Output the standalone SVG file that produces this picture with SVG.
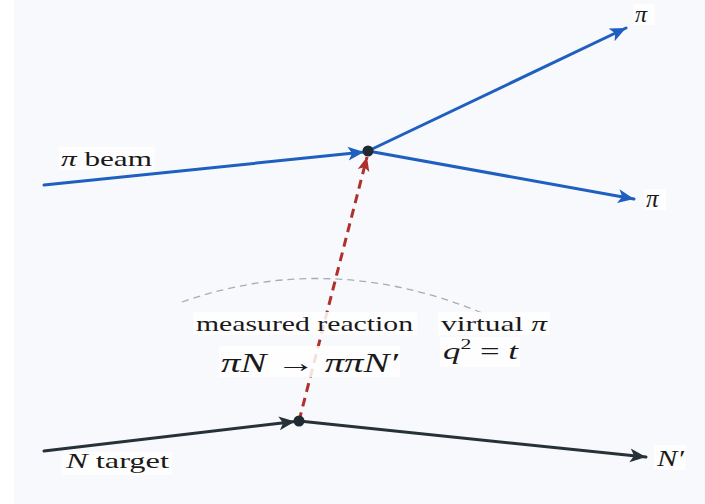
<svg xmlns="http://www.w3.org/2000/svg" width="705" height="504" viewBox="0 0 705 504">
<style>
.t{font-family:"Liberation Serif","Times New Roman",serif;fill:#1a1a1a}
.lb{fill:#ffffff;opacity:0.85}
.blue{stroke:#1f5fbf;stroke-width:3;fill:none;stroke-linecap:round}
.dark{stroke:#263238;stroke-width:3;fill:none;stroke-linecap:round}
.red{stroke:#b0302c;stroke-width:3;fill:none;stroke-dasharray:9 6}
.dot{fill:#1f2a33}
</style>
<defs>
<marker id="ab" markerUnits="userSpaceOnUse" markerWidth="20" markerHeight="16" refX="16" refY="7" orient="auto" viewBox="0 0 20 14">
<path d="M0,0 L16,7 L0,14 L4,7 z" fill="#1f5fbf"/>
</marker>
<marker id="ad" markerUnits="userSpaceOnUse" markerWidth="20" markerHeight="16" refX="16" refY="7" orient="auto" viewBox="0 0 20 14">
<path d="M0,0 L16,7 L0,14 L4,7 z" fill="#263238"/>
</marker>
<marker id="ar" markerUnits="userSpaceOnUse" markerWidth="18" markerHeight="14" refX="14" refY="6" orient="auto" viewBox="0 0 18 12">
<path d="M0,0 L14,6 L0,12 L3.5,6 z" fill="#b0302c"/>
</marker>
</defs>
<rect x="14" y="0" width="691" height="504" fill="#f7f9fc"/>
<path d="M182,302 Q330,250 482,313" fill="none" stroke="#a8adb3" stroke-width="1.3" stroke-dasharray="7 5"/>
<g id="connectors">
<line class="blue" x1="44" y1="185" x2="364" y2="152" marker-end="url(#ab)"/>
<line class="blue" x1="368" y1="151" x2="626" y2="28" marker-end="url(#ab)"/>
<line class="blue" x1="368" y1="151" x2="634" y2="199" marker-end="url(#ab)"/>
<line class="dark" x1="44" y1="451" x2="295" y2="421.5" marker-end="url(#ad)"/>
<line class="dark" x1="299" y1="421" x2="646" y2="457" marker-end="url(#ad)"/>
<line class="red" x1="299" y1="421" x2="367" y2="157" marker-end="url(#ar)"/>
</g>
<g id="vertex-top"><circle class="dot" cx="368" cy="151" r="5.5"/></g>
<g id="vertex-bottom"><circle class="dot" cx="299" cy="421" r="5.5"/></g>
<g id="label-beam">
<rect class="lb" x="59" y="147" width="96" height="23"/>
<text class="t" x="61" y="166" font-size="22" textLength="91" lengthAdjust="spacingAndGlyphs"><tspan font-style="italic">π</tspan>  beam</text>
</g>
<g id="label-pi-top">
<rect class="lb" x="633" y="4" width="22" height="21"/>
<text class="t" x="635" y="22" font-size="24" font-style="italic">π</text>
</g>
<g id="label-pi-bottom">
<rect class="lb" x="644" y="189" width="22" height="21"/>
<text class="t" x="646" y="207" font-size="25" font-style="italic">π</text>
</g>
<g id="label-measured">
<rect class="lb" x="193" y="312" width="224" height="23"/>
<text class="t" x="196" y="331" font-size="22" textLength="217" lengthAdjust="spacingAndGlyphs">measured reaction</text>
</g>
<g id="label-formula">
<rect class="lb" x="219" y="346" width="181" height="31"/>
<text class="t" x="221" y="372" font-size="27" textLength="177" lengthAdjust="spacingAndGlyphs"><tspan font-style="italic">πN</tspan> → <tspan font-style="italic">ππN′</tspan></text>
</g>
<g id="label-virtual">
<rect class="lb" x="438" y="312" width="112" height="23"/>
<text class="t" x="441" y="331" font-size="22" textLength="106" lengthAdjust="spacingAndGlyphs">virtual <tspan font-style="italic">π</tspan></text>
</g>
<g id="label-q2">
<rect class="lb" x="440" y="337" width="80" height="30"/>
<text class="t" x="443" y="359" font-size="24" textLength="75" lengthAdjust="spacingAndGlyphs"><tspan font-style="italic">q</tspan><tspan font-size="15" dy="-10">2</tspan><tspan dy="10"> = </tspan><tspan font-style="italic">t</tspan></text>
</g>
<g id="label-target">
<rect class="lb" x="61" y="452" width="111" height="23"/>
<text class="t" x="66" y="468" font-size="22" textLength="103" lengthAdjust="spacingAndGlyphs"><tspan font-style="italic">N</tspan>  target</text>
</g>
<g id="label-nprime">
<rect class="lb" x="654" y="445" width="32" height="25"/>
<text class="t" x="657" y="466" font-size="24" font-style="italic" textLength="27" lengthAdjust="spacingAndGlyphs">N′</text>
</g>
</svg>
